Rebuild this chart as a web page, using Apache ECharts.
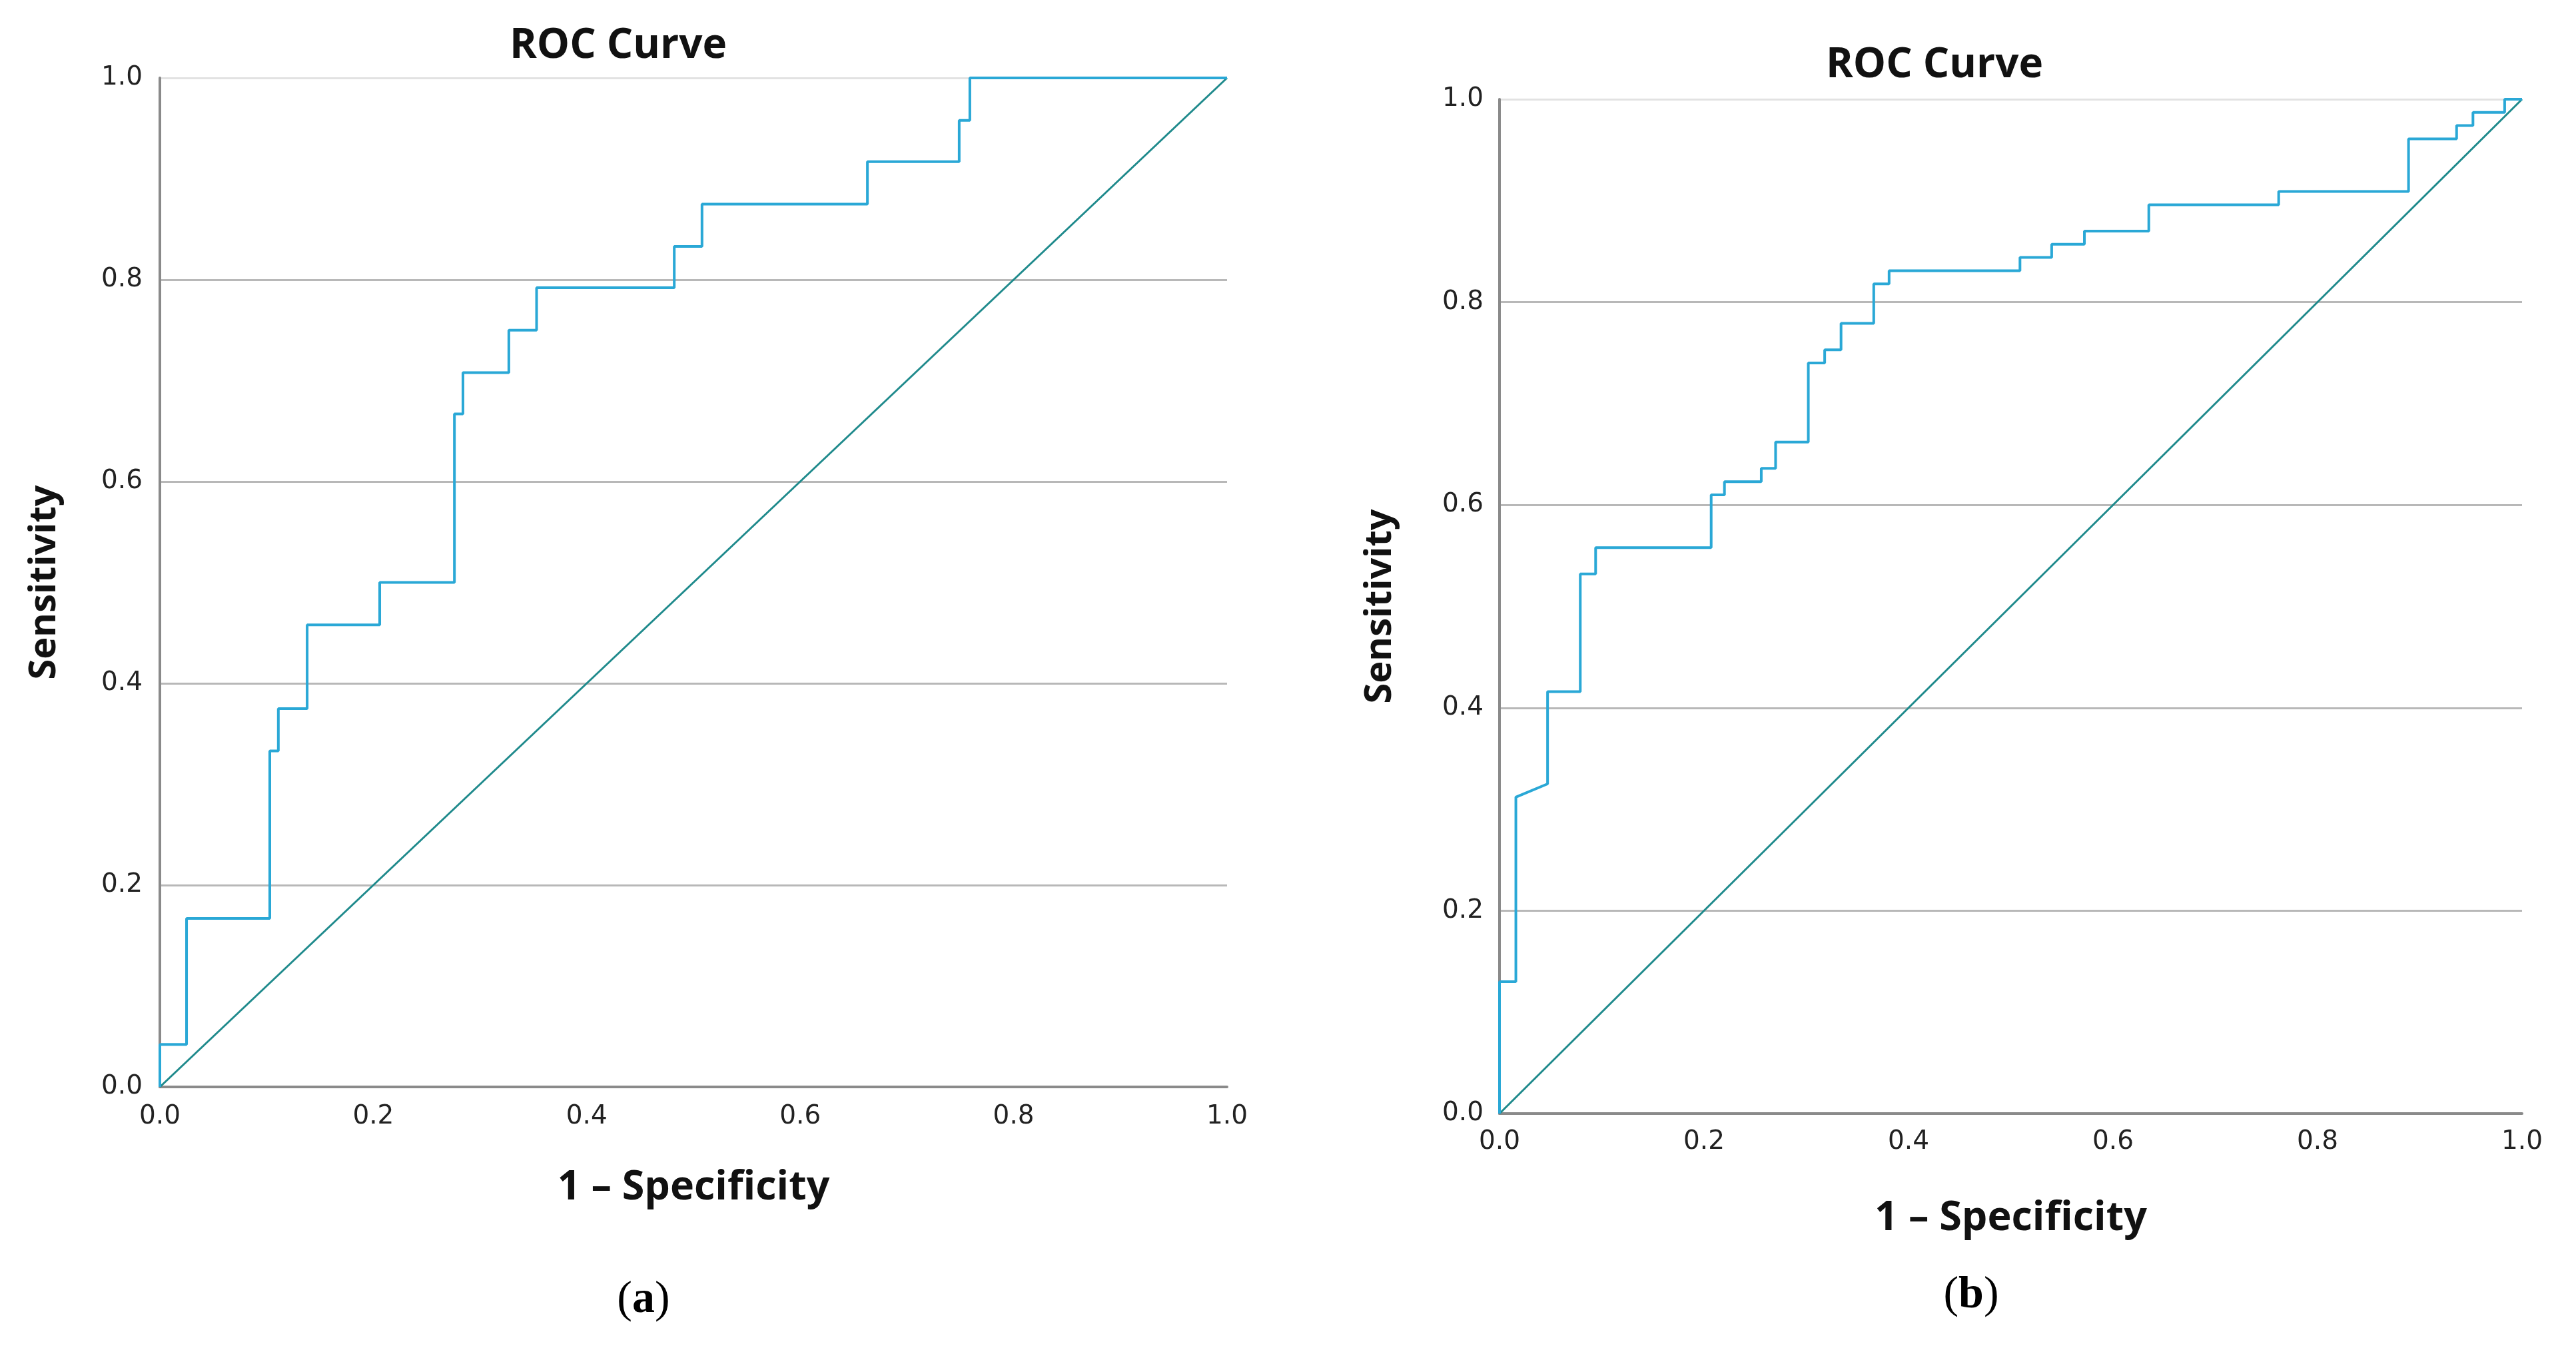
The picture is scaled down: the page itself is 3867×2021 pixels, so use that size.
<!DOCTYPE html>
<html>
<head>
<meta charset="utf-8">
<script src="https://cdn.jsdelivr.net/npm/echarts@6/dist/echarts.min.js"></script>
<style>
  html, body { margin: 0; padding: 0; background: #fff; }
  #main { width: 3867px; height: 2021px; }
</style>
</head>
<body>
<div id="main"></div>
<script>
// ROC curve vertices (1 - specificity, sensitivity)
var fprA = [0, 0, 0.025, 0.025, 0.103, 0.103, 0.111, 0.111, 0.138, 0.138, 0.206, 0.206, 0.276, 0.276, 0.284, 0.284,
	0.327, 0.327, 0.353, 0.353, 0.482, 0.482, 0.508, 0.508, 0.663, 0.663, 0.749, 0.749, 0.759, 0.759, 1];
var tprA = [0, 0.042, 0.042, 0.167, 0.167, 0.333, 0.333, 0.375, 0.375, 0.458, 0.458, 0.5, 0.5, 0.667, 0.667, 0.708,
	0.708, 0.75, 0.75, 0.792, 0.792, 0.833, 0.833, 0.875, 0.875, 0.917, 0.917, 0.958, 0.958, 1, 1];

var fprB = [0, 0, 0.016, 0.016, 0.047, 0.047, 0.079, 0.079, 0.094, 0.094, 0.207, 0.207, 0.22, 0.22, 0.256, 0.256,
	0.27, 0.27, 0.302, 0.302, 0.318, 0.318, 0.334, 0.334, 0.366, 0.366, 0.381, 0.381, 0.509, 0.509, 0.54, 0.54,
	0.572, 0.572, 0.635, 0.635, 0.762, 0.762, 0.889, 0.889, 0.936, 0.936, 0.952, 0.952, 0.983, 0.983, 1];
var tprB = [0, 0.13, 0.13, 0.312, 0.325, 0.416, 0.416, 0.532, 0.532, 0.558, 0.558, 0.61, 0.61, 0.623, 0.623, 0.636,
	0.636, 0.662, 0.662, 0.74, 0.74, 0.753, 0.753, 0.779, 0.779, 0.818, 0.818, 0.831, 0.831, 0.844, 0.844, 0.857,
	0.857, 0.87, 0.87, 0.896, 0.896, 0.909, 0.909, 0.961, 0.961, 0.974, 0.974, 0.987, 0.987, 1, 1];

var refLine = [0, 1];   // chance diagonal

var chartTitle = 'ROC Curve';
var xName = '1 \u2013 Specificity';
var yName = 'Sensitivity';
var captions = ['a', 'b'];

function zip(xs, ys) {
	var out = [];
	for (var i = 0; i < xs.length; i++) {
		out.push([xs[i], ys[i]]);
	}
	return out;
}

var tickFont = 'DejaVu Sans';
var boldFont = 'Open Sans';

function xAxisOf(gridIndex, labelMargin, nameGap) {
	return {
		type: 'value', gridIndex: gridIndex, min: 0, max: 1, interval: 0.2,
		name: xName, nameLocation: 'middle', nameGap: nameGap,
		nameTextStyle: { fontFamily: boldFont, fontWeight: 'bold', fontSize: 61, color: '#111' },
		axisLine: { show: true, onZero: false, lineStyle: { color: '#8a8a8a', width: 4 } },
		axisTick: { show: false },
		splitLine: { show: false },
		axisLabel: {
			margin: labelMargin, fontFamily: tickFont, fontSize: 39, color: '#222',
			formatter: function (v) { return v.toFixed(1); }
		}
	};
}

function yAxisOf(gridIndex, labelMargin, nameGap) {
	return {
		type: 'value', gridIndex: gridIndex, min: 0, max: 1, interval: 0.2,
		name: yName, nameLocation: 'middle', nameGap: nameGap,
		nameTextStyle: { fontFamily: boldFont, fontWeight: 'bold', fontSize: 56, color: '#111' },
		axisLine: { show: true, onZero: false, lineStyle: { color: '#8a8a8a', width: 4 } },
		axisTick: { show: false },
		splitLine: {
			show: true,
			lineStyle: { color: ['#b8b8b8', '#b8b8b8', '#b8b8b8', '#b8b8b8', '#b8b8b8', '#e2e2e2'], width: 3 }
		},
		axisLabel: {
			margin: labelMargin, fontFamily: tickFont, fontSize: 39, color: '#222',
			formatter: function (v) { return v.toFixed(1); }
		}
	};
}

function captionTitle(letter, x, y) {
	return {
		text: '(' + '{b|' + letter + '})',
		left: x, top: y, textAlign: 'center',
		textStyle: {
			fontFamily: 'Liberation Serif', fontSize: 68, fontWeight: 'normal', color: '#000',
			rich: { b: { fontFamily: 'Liberation Serif', fontSize: 68, fontWeight: 'bold', color: '#000' } }
		}
	};
}

var myChart = echarts.init(document.getElementById('main'), null, { renderer: 'canvas' });

var option = {
	backgroundColor: '#fff',
	animation: false,
	title: [
		{ text: chartTitle, left: 923, top: 33, textAlign: 'center',
			textStyle: { fontFamily: boldFont, fontWeight: 'bold', fontSize: 62, color: '#111' } },
		{ text: chartTitle, left: 2899, top: 62, textAlign: 'center',
			textStyle: { fontFamily: boldFont, fontWeight: 'bold', fontSize: 62, color: '#111' } },
		captionTitle(captions[0], 961, 1913),
		captionTitle(captions[1], 2954, 1906)
	],
	grid: [
		{ left: 240, top: 117, width: 1602, height: 1515 },
		{ left: 2251, top: 149, width: 1535, height: 1523 }
	],
	xAxis: [xAxisOf(0, 25, 121), xAxisOf(1, 23, 127)],
	yAxis: [yAxisOf(0, 26, 145), yAxisOf(1, 24, 151)],
	series: [
		{ type: 'line', xAxisIndex: 0, yAxisIndex: 0, data: zip(refLine, refLine), symbol: 'none',
			lineStyle: { color: '#1f8a8c', width: 3 }, z: 3 },
		{ type: 'line', xAxisIndex: 0, yAxisIndex: 0, data: zip(fprA, tprA), symbol: 'none',
			lineStyle: { color: '#2aa8d6', width: 4 }, z: 4 },
		{ type: 'line', xAxisIndex: 1, yAxisIndex: 1, data: zip(refLine, refLine), symbol: 'none',
			lineStyle: { color: '#1f8a8c', width: 3 }, z: 3 },
		{ type: 'line', xAxisIndex: 1, yAxisIndex: 1, data: zip(fprB, tprB), symbol: 'none',
			lineStyle: { color: '#2aa8d6', width: 4 }, z: 4 }
	]
};

myChart.setOption(option);
</script>
</body>
</html>
